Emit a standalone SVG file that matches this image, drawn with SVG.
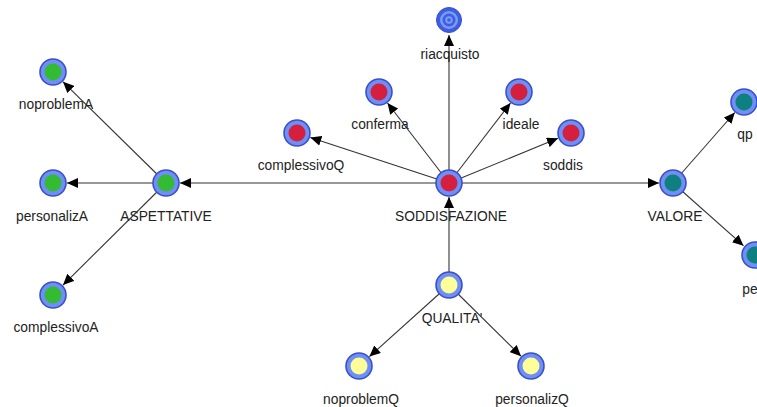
<svg xmlns="http://www.w3.org/2000/svg" width="757" height="407" viewBox="0 0 757 407">
  <style>
    .edge { stroke: #333; stroke-width: 1.1; fill: none; marker-end: url(#arrow); }
    .ring { fill: #6f8ff2; stroke: #3a4fcc; stroke-width: 1.6; }
    .lbl { font-family: "Liberation Sans", Arial, sans-serif; font-size: 13.8px; fill: #222; text-anchor: middle; }
    .red { fill: #d41f3f; }
    .green { fill: #34bb34; }
    .teal { fill: #0f8080; }
    .yellow { fill: #ffff99; }
  </style>
  <defs>
    <marker id="arrow" markerUnits="userSpaceOnUse" markerWidth="11" markerHeight="10" refX="11" refY="5" orient="auto">
      <path d="M0,0 L11,5 L0,10 z" fill="#000"/>
    </marker>
  </defs>
  <rect width="757" height="407" fill="#fff"/>

  <g id="connectors">
    <line class="edge" x1="449" y1="183" x2="449" y2="35"/>
    <line class="edge" x1="449" y1="183" x2="387.5" y2="103"/>
    <line class="edge" x1="449" y1="183" x2="510.5" y2="103"/>
    <line class="edge" x1="449" y1="183" x2="310.3" y2="137.4"/>
    <line class="edge" x1="449" y1="183" x2="558" y2="138.3"/>
    <line class="edge" x1="449" y1="183" x2="180" y2="183"/>
    <line class="edge" x1="449" y1="183" x2="659" y2="183"/>
    <line class="edge" x1="449" y1="285" x2="449" y2="197"/>
    <line class="edge" x1="166" y1="183" x2="63" y2="81.8"/>
    <line class="edge" x1="166" y1="183" x2="67" y2="183"/>
    <line class="edge" x1="166" y1="183" x2="63" y2="285.1"/>
    <line class="edge" x1="673" y1="183" x2="734.8" y2="112.5"/>
    <line class="edge" x1="673" y1="183" x2="743.5" y2="245.7"/>
    <line class="edge" x1="449" y1="285" x2="369.4" y2="356.6"/>
    <line class="edge" x1="449" y1="285" x2="521" y2="356.2"/>
  </g>

  <g id="riacquisto">
    <circle cx="449" cy="20" r="12.5" fill="#3d5ee0" stroke="#3a4fcc" stroke-width="1"/>
    <circle cx="449" cy="20" r="9" fill="#7b9bf5"/>
    <circle cx="449" cy="20" r="6.5" fill="#3d5ee0"/>
    <circle cx="449" cy="20" r="3.8" fill="#7b9bf5"/>
    <circle cx="449" cy="20" r="1.8" fill="#3d5ee0"/>
    <text class="lbl" x="450" y="59">riacquisto</text>
  </g>
  <g id="conferma">
    <circle class="ring" cx="379" cy="92" r="13"/>
    <circle class="red" cx="379" cy="92" r="8.5"/>
    <text class="lbl" x="380" y="129">conferma</text>
  </g>
  <g id="ideale">
    <circle class="ring" cx="519" cy="92" r="13"/>
    <circle class="red" cx="519" cy="92" r="8.5"/>
    <text class="lbl" x="521" y="129">ideale</text>
  </g>
  <g id="complessivoQ">
    <circle class="ring" cx="297" cy="133" r="13"/>
    <circle class="red" cx="297" cy="133" r="8.5"/>
    <text class="lbl" x="301" y="170">complessivoQ</text>
  </g>
  <g id="soddis">
    <circle class="ring" cx="571" cy="133" r="13"/>
    <circle class="red" cx="571" cy="133" r="8.5"/>
    <text class="lbl" x="563" y="170">soddis</text>
  </g>
  <g id="SODDISFAZIONE">
    <circle class="ring" cx="449" cy="183" r="13"/>
    <circle class="red" cx="449" cy="183" r="8.5"/>
    <text class="lbl" x="451" y="221">SODDISFAZIONE</text>
  </g>
  <g id="ASPETTATIVE">
    <circle class="ring" cx="166" cy="183" r="13"/>
    <circle class="green" cx="166" cy="183" r="8.5"/>
    <text class="lbl" x="166" y="221">ASPETTATIVE</text>
  </g>
  <g id="noproblemA">
    <circle class="ring" cx="53" cy="72" r="13"/>
    <circle class="green" cx="53" cy="72" r="8.5"/>
    <text class="lbl" x="56" y="109">noproblemA</text>
  </g>
  <g id="personalizA">
    <circle class="ring" cx="53" cy="183" r="13"/>
    <circle class="green" cx="53" cy="183" r="8.5"/>
    <text class="lbl" x="52" y="221">personalizA</text>
  </g>
  <g id="complessivoA">
    <circle class="ring" cx="53" cy="295" r="13"/>
    <circle class="green" cx="53" cy="295" r="8.5"/>
    <text class="lbl" x="56" y="332">complessivoA</text>
  </g>
  <g id="VALORE">
    <circle class="ring" cx="673" cy="183" r="13"/>
    <circle class="teal" cx="673" cy="183" r="8.5"/>
    <text class="lbl" x="675" y="221">VALORE</text>
  </g>
  <g id="qp">
    <circle class="ring" cx="744" cy="102" r="13"/>
    <circle class="teal" cx="744" cy="102" r="8.5"/>
    <text class="lbl" x="745" y="139">qp</text>
  </g>
  <g id="pe">
    <circle class="ring" cx="755" cy="255" r="13"/>
    <circle class="teal" cx="755" cy="255" r="8.5"/>
    <text class="lbl" x="750" y="294">pe</text>
  </g>
  <g id="QUALITA">
    <circle class="ring" cx="449" cy="285" r="13"/>
    <circle class="yellow" cx="449" cy="285" r="8.5"/>
    <text class="lbl" x="452" y="323">QUALITA'</text>
  </g>
  <g id="noproblemQ">
    <circle class="ring" cx="359" cy="366" r="13"/>
    <circle class="yellow" cx="359" cy="366" r="8.5"/>
    <text class="lbl" x="361" y="404">noproblemQ</text>
  </g>
  <g id="personalizQ">
    <circle class="ring" cx="531" cy="366" r="13"/>
    <circle class="yellow" cx="531" cy="366" r="8.5"/>
    <text class="lbl" x="532" y="404">personalizQ</text>
  </g>
</svg>
